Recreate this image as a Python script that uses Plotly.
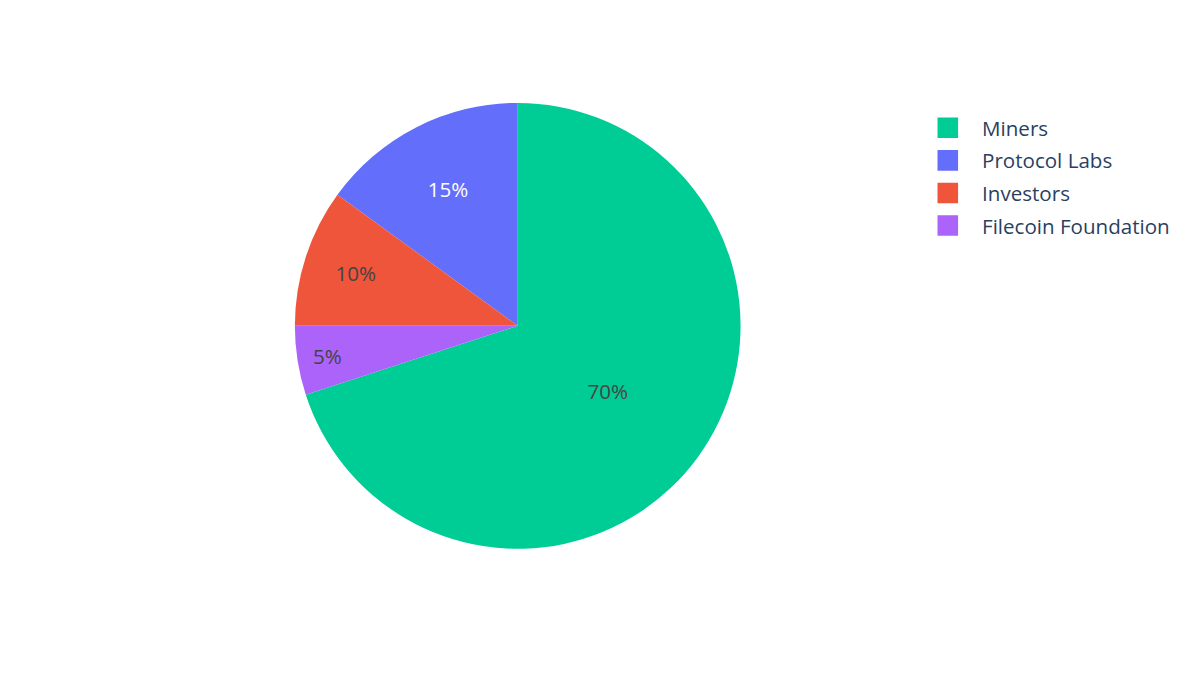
import plotly.graph_objects as go

# Data
labels = ["Protocol Labs", "Investors", "Miners", "Filecoin Foundation"]
values = [15, 10, 70, 5]
colors = ["#636efa", "#EF553B", "#00cc96", "#ab63fa"]

# The reference is a 700x400 figure exported at ~1.714x scale
BASE_W, BASE_H = 700, 400
OUT_W, OUT_H = 1200, 686
SX, SY = OUT_W / BASE_W, OUT_H / BASE_H

fig = go.Figure(
    go.Pie(
        labels=labels,
        values=values,
        marker=dict(colors=colors),
        textinfo="percent",
        sort=True,
    )
)

fig.update_layout(
    template="plotly",
    width=BASE_W,
    height=BASE_H,
    margin=dict(t=60),
)

post = (
    "document.documentElement.style.margin='0';"
    "document.body.style.margin='0';"
    "document.body.style.overflow='hidden';"
    "var d=document.getElementById('{plot_id}');"
    f"d.style.transformOrigin='0 0';d.style.transform='scale({SX},{SY})';"
)

fig.write_html("out.html", post_script=post, config={"displayModeBar": False})
